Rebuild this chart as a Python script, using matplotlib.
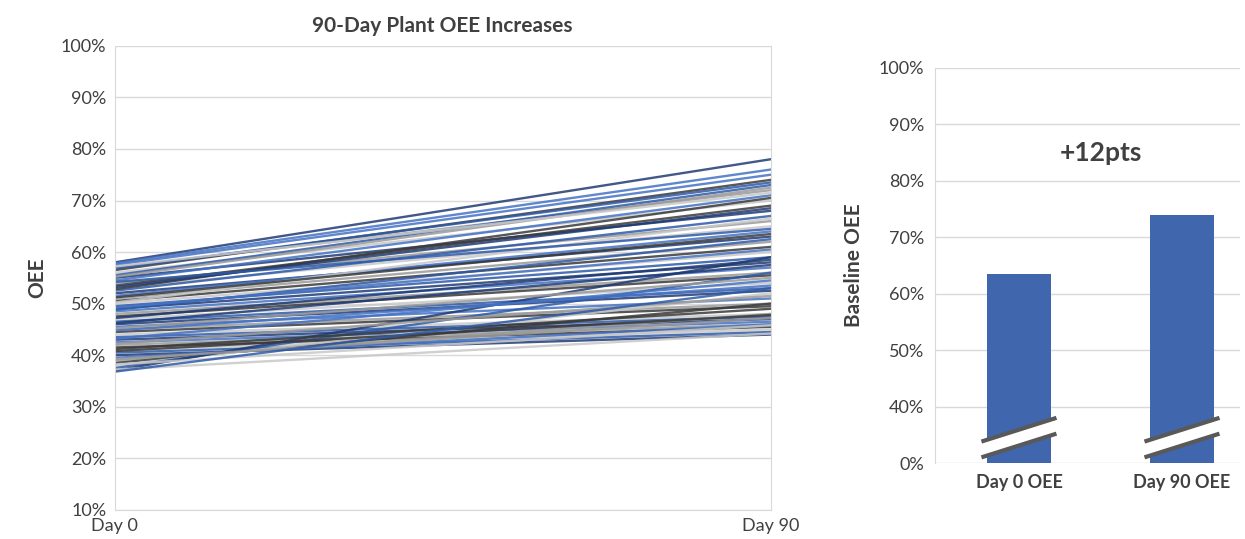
import matplotlib.pyplot as plt
from matplotlib.patches import Polygon

plt.rcParams['font.family'] = ['Lato', 'DejaVu Sans']

# plant OEE (%) at day 0 and day 90
day0 = [58, 57.5, 57, 56.5, 56, 55.5, 55, 54.5, 54, 53.5, 53, 52.5, 52, 51.5, 51,
        50.5, 50, 49.5, 49, 48.5, 48, 47.5, 47, 46.5, 46, 45.5, 45, 44.5, 44, 43.5,
        43, 42.5, 42, 41.5, 41, 40.5, 40, 39.5, 39, 38.5, 38, 37.5, 37, 57.8, 55.2,
        52.8, 50.2, 48.8, 46.2, 44.8, 42.2, 40.8, 38.2, 56.8, 53.2, 49.2, 45.2, 41.2,
        37.2, 54.2, 47.2, 43.2, 39.2, 51.2, 57.2, 36.8]
day90 = [78, 75, 72, 74, 70, 73, 68, 71, 66, 69, 65, 67, 63, 64, 62, 61, 60, 59,
         58, 57, 56, 55.5, 54, 53, 52.5, 51, 50, 49.5, 48, 47.5, 47, 46.5, 46, 45.5,
         45, 44.5, 44, 46, 48, 50, 52, 56, 59, 76, 72.5, 70.5, 66.5, 62.5, 57.5,
         53.5, 51.5, 47.8, 45.8, 73.5, 68.5, 60.5, 55, 49, 44.2, 64.5, 58.5, 54.5,
         47.2, 63.5, 71.5, 53]
line_colors = ['#1f3b73', '#4472c4', '#9a9a9a', '#3a3a3a', '#c8c8c8', '#2e5aa8']

stages = ['Day 0 OEE', 'Day 90 OEE']
avg_oee = [63.5, 74]
right_ticks = ['0%', '40%', '50%', '60%', '70%', '80%', '90%', '100%']

fig = plt.figure(figsize=(12.45, 5.39), dpi=100)
grid_c = '#d9d9d9'
txt_c = '#404040'

ax = fig.add_axes([0.092, 0.054, 0.527, 0.861])
for i, (a, b) in enumerate(zip(day0, day90)):
    ax.plot([0, 90], [a, b], color=line_colors[i % len(line_colors)], lw=1.7, alpha=0.85)
ax.set_xlim(0, 90)
ax.set_ylim(10, 100)
ax.set_yticks(range(10, 101, 10))
ax.set_yticklabels([f'{v}%' for v in range(10, 101, 10)], fontsize=13, color=txt_c)
ax.set_xticks([0, 90])
ax.set_xticklabels(['Day 0', 'Day 90'], fontsize=13, color=txt_c)
ax.tick_params(length=0, pad=6)
ax.grid(axis='y', color=grid_c, lw=1)
ax.set_axisbelow(True)
ax.spines['top'].set_visible(False)
for s in ['left', 'right', 'bottom']:
    ax.spines[s].set_color(grid_c)
ax.set_ylabel('OEE', fontsize=15, fontweight='bold', color=txt_c, labelpad=10)
ax.set_title('90-Day Plant OEE Increases', fontsize=15, fontweight='bold', color=txt_c, pad=10)

# right: bar chart on a broken scale (0%, then 40%..100%)
ax2 = fig.add_axes([0.751, 0.141, 0.245, 0.733])
pos = [1 + (v - 40) / 10 for v in avg_oee]
ax2.bar([0, 1], pos, width=0.39, color='#4067ae', zorder=2)
ax2.set_xlim(-0.515, 1.356)
ax2.set_ylim(0, 7)
ax2.set_yticks(range(8))
ax2.set_yticklabels(right_ticks, fontsize=13, color=txt_c)
ax2.set_xticks([0, 1])
ax2.set_xticklabels(stages, fontsize=13, fontweight='bold', color=txt_c)
ax2.tick_params(length=0, pad=8)
ax2.grid(axis='y', color=grid_c, lw=1)
ax2.set_axisbelow(True)
for s in ['top', 'right', 'bottom']:
    ax2.spines[s].set_visible(False)
ax2.spines['left'].set_color(grid_c)
ax2.set_ylabel('Baseline OEE', fontsize=15, fontweight='bold', color=txt_c, labelpad=10)
ax2.text(0.5, 5.5, '+12pts', ha='center', va='center', fontsize=19, fontweight='bold', color=txt_c)

# axis-break marks over each bar
for xc in [0, 1]:
    w = 0.23
    y0, dy, gap = 0.1, 0.42, 0.28
    xs = [xc - w, xc + w]
    poly = Polygon([(xs[0], y0), (xs[1], y0 + dy), (xs[1], y0 + dy + gap), (xs[0], y0 + gap)],
                   closed=True, facecolor='white', edgecolor='none', zorder=3)
    ax2.add_patch(poly)
    ax2.plot(xs, [y0, y0 + dy], color='#595959', lw=3, zorder=4, solid_capstyle='butt')
    ax2.plot(xs, [y0 + gap, y0 + dy + gap], color='#595959', lw=3, zorder=4, solid_capstyle='butt')

fig.savefig('out.png', dpi=100)
